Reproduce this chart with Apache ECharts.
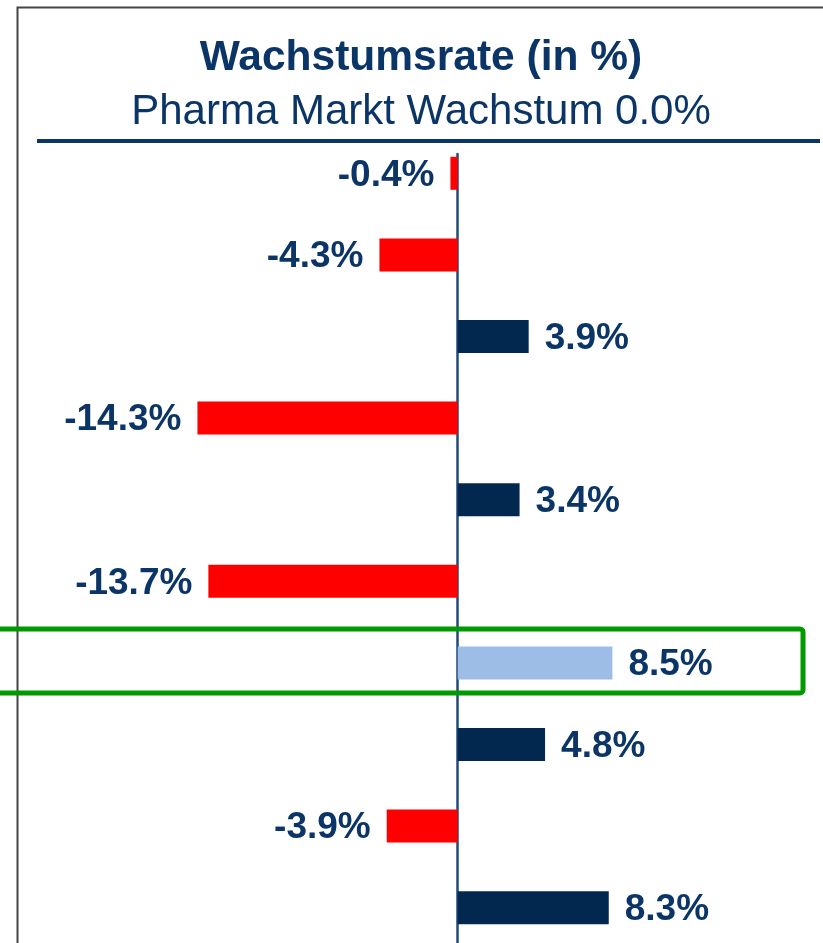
<!DOCTYPE html>
<html>
<head>
<meta charset="utf-8">
<script src="https://cdn.jsdelivr.net/npm/echarts@6/dist/echarts.min.js"></script>
<style>
  html, body { margin: 0; padding: 0; background: #fff; }
  #chart { width: 823px; height: 943px; }
</style>
</head>
<body>
<div id="chart"></div>
<script>
// Daten
const rows = ['1', '2', '3', '4', '5', '6', '7', '8', '9', '10']
const growth = [-0.4, -4.3, 3.9, -14.3, 3.4, -13.7, 8.5, 4.8, -3.9, 8.3]
const highlightRow = '7'

const titleText = 'Wachstumsrate (in %)'
const subText = 'Pharma Markt Wachstum 0.0%'

const navy = '#0b3567'
const font = 'Liberation Sans, Arial, sans-serif'

const chart = echarts.init(document.getElementById('chart'), null, { renderer: 'canvas' })

const barData = growth.map((v, i) => {
  let color = v < 0 ? '#ff0000' : '#03284f'
  if (rows[i] === highlightRow) color = '#9dbde6'
  return {
    value: v,
    itemStyle: { color: color },
    label: { position: v < 0 ? 'left' : 'right' }
  }
})

const option = {
  animation: false,
  backgroundColor: '#ffffff',
  title: [
    {
      text: titleText,
      left: 416, top: 32, textAlign: 'center',
      textStyle: { color: navy, fontFamily: font, fontSize: 42.5, fontWeight: 'bold' }
    },
    {
      text: subText,
      left: 416, top: 86, textAlign: 'center',
      textStyle: { color: navy, fontFamily: font, fontSize: 42, fontWeight: 'normal' }
    }
  ],
  grid: [
    // Balken
    { left: 93.7, right: 92.3, top: 132.5, height: 816, outerBoundsMode: 'none' },
    // Nulllinie
    { left: 93.7, right: 92.3, top: 154, bottom: 0, outerBoundsMode: 'none' }
  ],
  xAxis: [
    { gridIndex: 0, type: 'value', min: -20, max: 15, show: false },
    { gridIndex: 1, type: 'value', min: -20, max: 15, show: false }
  ],
  yAxis: [
    {
      gridIndex: 0, type: 'category', data: rows, inverse: true,
      axisLine: { show: false }, axisTick: { show: false }, axisLabel: { show: false },
      splitLine: { show: false }
    },
    {
      gridIndex: 1, type: 'value', min: 0, max: 1,
      axisLine: { show: true, onZero: true, lineStyle: { color: '#1f4a7a', width: 2.5 } },
      axisTick: { show: false }, axisLabel: { show: false }, splitLine: { show: false }
    }
  ],
  series: [
    {
      type: 'bar',
      xAxisIndex: 0, yAxisIndex: 0,
      data: barData,
      barWidth: 33,
      label: {
        show: true,
        distance: 16,
        offset: [0, 2],
        color: navy,
        fontFamily: font,
        fontSize: 37,
        fontWeight: 'bold',
        formatter: p => p.value.toFixed(1) + '%'
      }
    }
  ]
}
chart.setOption(option)

// Rahmen, Trennlinie und Markierung der hervorgehobenen Zeile
const hy = chart.convertToPixel({ yAxisIndex: 0 }, highlightRow)
chart.setOption({
  graphic: [
    {
      type: 'polyline', z: 10,
      shape: { points: [[17.5, 943], [17.5, 7.5], [823, 7.5]] },
      style: { stroke: '#444', lineWidth: 2, fill: null }
    },
    {
      type: 'line', z: 10,
      shape: { x1: 37, y1: 141, x2: 820, y2: 141 },
      style: { stroke: navy, lineWidth: 4 }
    },
    {
      type: 'rect', z: 10,
      shape: { x: -20, y: hy - 34, width: 823, height: 64, r: 3 },
      style: { stroke: '#009a00', lineWidth: 5, fill: null }
    }
  ]
})
</script>
</body>
</html>
